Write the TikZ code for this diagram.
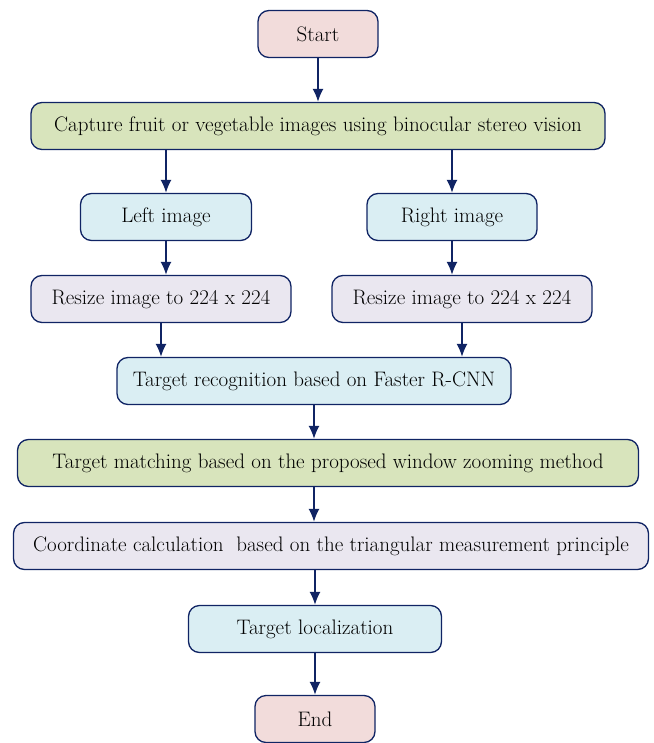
\documentclass[tikz,border=0pt]{standalone}
\usetikzlibrary{arrows.meta}
\definecolor{navy}{RGB}{16,36,100}
\definecolor{pinkfill}{RGB}{242,220,219}
\definecolor{greenfill}{RGB}{216,228,188}
\definecolor{bluefill}{RGB}{218,238,243}
\definecolor{lavfill}{RGB}{234,231,240}
\tikzset{every node/.style={rectangle,rounded corners=11pt,draw=navy,text=black,line width=1.3pt,minimum height=47pt,inner sep=0pt,font=\fontsize{21}{24}\selectfont}}
\tikzset{every path/.style={->,>={Latex[length=13pt,width=11pt]}}}
\tikzset{pk/.style={fill=pinkfill}}
\tikzset{gr/.style={fill=greenfill}}
\tikzset{bl/.style={fill=bluefill}}
\tikzset{lv/.style={fill=lavfill}}

\begin{document}
\begin{tikzpicture}[x=1pt,y=-1pt,color=navy,line width=1.6pt]
\useasboundingbox (0,0) rectangle (653,743);
\node[pk,minimum width=120pt](start) at (318,34) {Start};
\node[gr,minimum width=574pt](capture) at (318,126) {Capture fruit or vegetable images using binocular stereo vision};
\node[bl,minimum width=171pt](left) at (166,217) {Left image};
\node[bl,minimum width=170pt](right) at (452,217) {Right image};
\node[lv,minimum width=260pt](resizel) at (161,299) {Resize image to 224 x 224};
\node[lv,minimum width=260pt](resizer) at (462,299) {Resize image to 224 x 224};
\node[bl,minimum width=394pt](recog) at (314,381) {Target recognition based on Faster R-CNN};
\node[gr,minimum width=621pt](match) at (328,463) {Target matching based on the proposed window zooming method};
\node[lv,minimum width=635pt](coord) at (331,546) {Coordinate calculation\ \ based on the triangular measurement principle};
\node[bl,minimum width=253pt](loc) at (315,629) {Target localization};
\node[pk,minimum width=120pt](end) at (315,719) {End};

\draw (start) -- (capture);
\draw (capture.south -| left.north) -- (left.north);
\draw (capture.south -| right.north) -- (right.north);
\draw (left) -- (left |- resizel.north);
\draw (right) -- (right |- resizer.north);
\draw (resizel) -- (resizel |- recog.north);
\draw (resizer) -- (resizer |- recog.north);
\draw (recog) -- (recog |- match.north);
\draw (match.south -| recog) -- (recog |- coord.north);
\draw (coord.south -| loc) -- (loc);
\draw (loc) -- (end);
\end{tikzpicture}
\end{document}
